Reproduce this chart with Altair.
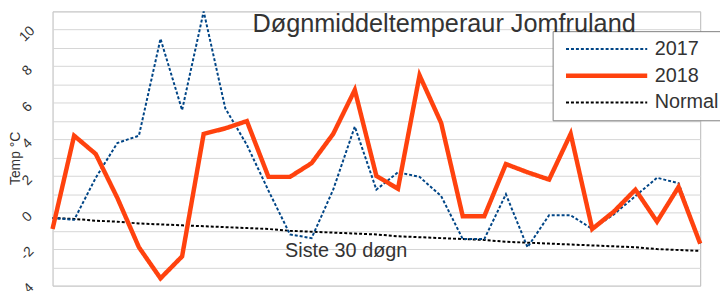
import altair as alt
import pandas as pd

days = list(range(31))
series_names = ["2017", "2018", "Normal"]
t2017 = [-0.3, -0.4, 1.9, 3.8, 4.2, 9.5, 5.6, 11.0, 5.7, 3.7, 1.2, -1.2, -1.4, 1.25, 4.7,
         1.25, 2.2, 1.95, 0.9, -1.45, -1.45, 1.0, -1.9, -0.15, -0.15, -0.9, -0.1, 0.9, 1.9, 1.6, -1.7]
t2018 = [-0.9, 4.2, 3.2, 0.8, -1.9, -3.6, -2.4, 4.3, 4.6, 5.0, 1.95, 1.95, 2.7, 4.3, 6.7,
         2.0, 1.3, 7.5, 4.9, -0.2, -0.2, 2.65, 2.2, 1.8, 4.3, -0.9, 0.05, 1.25, -0.5, 1.4, -1.7]
normal = [-0.3, -0.35, -0.45, -0.5, -0.6, -0.65, -0.7, -0.75, -0.8, -0.85, -0.9, -1.0, -1.05, -1.1, -1.15,
          -1.2, -1.3, -1.35, -1.4, -1.45, -1.5, -1.6, -1.65, -1.7, -1.75, -1.8, -1.85, -1.9, -2.0, -2.05, -2.1]
y_ticks = list(range(-4, 12))

rows = []
for name, vals in zip(series_names, [t2017, t2018, normal]):
    for d, v in zip(days, vals):
        rows.append({"day": d, "temp": v, "series": name})
df = pd.DataFrame(rows)

FONT = "Liberation Sans"

x_enc = alt.X("day:Q", scale=alt.Scale(domain=[0, 30], nice=False, zero=False),
              axis=alt.Axis(labels=False, ticks=False, domain=False, grid=False,
                            title="Siste 30 døgn", titleFontSize=20, titleFontWeight="normal",
                            titleFont=FONT, titleColor="#333333", titleX=296, titleY=-29,
                            titleBaseline="alphabetic", titleAlign="center"))
y_enc = alt.Y("temp:Q", scale=alt.Scale(domain=[-4, 11], nice=False, zero=False),
              axis=alt.Axis(values=y_ticks,
                            labelExpr="datum.value % 2 == 0 ? '' + datum.value : ''",
                            labelAngle=-45, labelAlign="center", labelBaseline="middle",
                            labelPadding=26, labelOffset=4, labelFontSize=14, labelFont=FONT,
                            labelColor="#333333", ticks=False, tickSize=0, domain=False,
                            gridColor="#d6d6d6", title="Temp °C", titleAngle=-90,
                            titleX=-37, titleY=148, titleFontSize=14, titleFontWeight="normal",
                            titleFont=FONT, titleColor="#333333", titleAlign="center",
                            titleBaseline="middle"))
color_enc = alt.Color("series:N", scale=alt.Scale(domain=series_names,
                                                  range=["#004586", "#ff420e", "#000000"]),
                      legend=alt.Legend(title=None))
dash_enc = alt.StrokeDash("series:N", scale=alt.Scale(domain=series_names,
                                                      range=[[3, 2], [1, 0], [3, 2]]),
                          legend=alt.Legend(title=None))
width_enc = alt.StrokeWidth("series:N", scale=alt.Scale(type="ordinal", domain=series_names,
                                                        range=[2, 4.5, 2]),
                            legend=alt.Legend(title=None))

base = alt.Chart(df).mark_line().encode(
    x=x_enc, y=y_enc, color=color_enc, strokeDash=dash_enc, strokeWidth=width_enc
)

layers = [base.transform_filter(alt.datum.series == s) for s in ["Normal", "2017", "2018"]]

chart = alt.layer(*layers).properties(
    width=654, height=277,
    autosize=alt.AutoSizeParams(type="none"),
    padding={"left": 45, "top": 2, "right": 20, "bottom": 4},
    title=alt.TitleParams("Døgnmiddeltemperaur Jomfruland", anchor="start", frame="group",
                          dx=202, dy=50, offset=0, baseline="alphabetic", fontSize=25.5,
                          fontWeight="normal", font=FONT, color="#333333"),
).configure_view(stroke="#b8b8b8", strokeWidth=1).configure_legend(
    orient="none", legendX=505, legendY=20, padding=8, fillColor="white",
    strokeColor="#7f7f7f", cornerRadius=0, labelFontSize=20, labelFont=FONT,
    labelColor="#333333", labelOffset=5, symbolType="stroke", symbolSize=6724,
    clipHeight=20, rowPadding=7, symbolOffset=3
)

chart.save("out.html", embed_options={"renderer": "svg", "actions": False})
